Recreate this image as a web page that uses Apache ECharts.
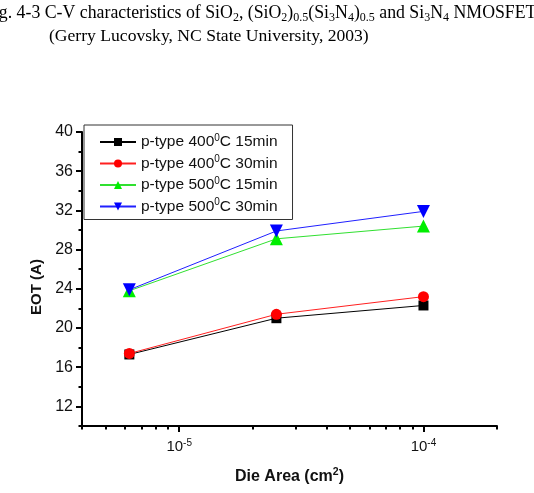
<!DOCTYPE html>
<html>
<head>
<meta charset="utf-8">
<script src="https://cdn.jsdelivr.net/npm/echarts@6/dist/echarts.min.js"></script>
<style>
  html, body { margin: 0; padding: 0; background: #fff; }
  #chart { width: 534px; height: 493px; }
</style>
</head>
<body>
<div id="chart"></div>
<script>
// die areas (cm^2) and EOT (A)
const dieArea = [6.25e-6, 2.5e-5, 1e-4]
const eot400_15 = [17.3, 21.0, 22.3]
const eot400_30 = [17.4, 21.4, 23.2]
const eot500_15 = [23.8, 29.1, 30.4]
const eot500_30 = [23.9, 29.9, 31.9]

const seriesNames = ['p-type 400°C 15min', 'p-type 400°C 30min', 'p-type 500°C 15min', 'p-type 500°C 30min']

const yLabels = [12, 16, 20, 24, 28, 32, 36, 40]
const yMinor = [10, 14, 18, 22, 26, 30, 34, 38]
const xMajor = [1e-5, 1e-4]
const xMinor = [4e-6, 5e-6, 6e-6, 7e-6, 8e-6, 9e-6, 2e-5, 3e-5, 4e-5, 5e-5, 6e-5, 7e-5, 8e-5, 9e-5, 2e-4]
const xMin = 4e-6
const xMax = 2e-4
const yMin = 10
const yMax = 40

const lg = v => Math.log10(v)
const pts = arr => arr.map((y, i) => [lg(dieArea[i]), y])

const sans = 'Liberation Sans, Arial, sans-serif'
const serif = 'Liberation Serif, Times New Roman, serif'

const chart = echarts.init(document.getElementById('chart'), null, { renderer: 'canvas' })

function mkSeries(name, data, color, lineColor, symbol, size, rotate) {
  return {
    name, type: 'line', data: pts(data),
    symbol, symbolSize: size, symbolRotate: rotate || 0,
    lineStyle: { color: lineColor, width: 1 },
    itemStyle: { color },
    emphasis: { disabled: true },
    z: 3,
  }
}

const axisLine = { show: true, lineStyle: { color: '#000', width: 2 } }

chart.setOption({
  backgroundColor: '#fff',
  animation: false,
  textStyle: { fontFamily: sans },
  grid: { left: 82, right: 37, top: 132, bottom: 67 },
  graphic: [
    {
      type: 'text', left: -16, top: 3,
      style: {
        text: 'Fig. 4-3 C-V characteristics of SiO{sub|2}, (SiO{sub|2}){sub|0.5}(Si{sub|3}N{sub|4}){sub|0.5} and Si{sub|3}N{sub|4} NMOSFETs',
        font: '17.8px ' + serif, fill: '#000', lineHeight: 21,
        rich: { sub: { fontSize: 12, fontFamily: serif, verticalAlign: 'bottom', lineHeight: 12 } },
      },
    },
    {
      type: 'text', left: 49, top: 27,
      style: { text: '(Gerry Lucovsky, NC State University, 2003)', font: '17.6px ' + serif, fill: '#000' },
    },
  ],
  legend: {
    orient: 'vertical', left: 84, top: 125,
    data: seriesNames,
    borderColor: '#333', borderWidth: 1, borderRadius: 0,
    padding: [8, 15, 4, 15],
    itemWidth: 36, itemHeight: 10, itemGap: 3.5,
    formatter: n => n.replace('°', '{s|0}'),
    textStyle: {
      fontSize: 15.5, color: '#111', fontFamily: sans, lineHeight: 18,
      rich: { s: { fontSize: 10, fontFamily: sans, verticalAlign: 'top', lineHeight: 8 } },
    },
  },
  xAxis: [
    {
      type: 'value', min: lg(xMin), max: lg(xMax), position: 'bottom',
      axisLine,
      axisTick: { customValues: xMajor.map(lg), length: 6, lineStyle: { color: '#000', width: 2 } },
      axisLabel: {
        customValues: xMajor.map(lg), margin: 12, color: '#111',
        formatter: v => '{b|10}{s|' + Math.round(v) + '}',
        rich: {
          b: { fontSize: 15, fontFamily: sans, lineHeight: 18 },
          s: { fontSize: 10, fontFamily: sans, verticalAlign: 'top', lineHeight: 9 },
        },
      },
      splitLine: { show: false },
      name: 'Die Area (cm{s|2})', nameLocation: 'middle', nameGap: 41,
      nameTextStyle: {
        fontSize: 16, fontWeight: 'bold', color: '#111', fontFamily: sans, lineHeight: 19,
        rich: { s: { fontSize: 10.5, fontWeight: 'bold', fontFamily: sans, verticalAlign: 'top', lineHeight: 9 } },
      },
    },
    {
      type: 'value', min: lg(xMin), max: lg(xMax), position: 'bottom',
      axisLine: { show: false },
      axisTick: { customValues: xMinor.map(lg), length: 3.5, lineStyle: { color: '#000', width: 2 } },
      axisLabel: { show: false },
      splitLine: { show: false },
    },
  ],
  yAxis: [
    {
      type: 'value', min: yMin, max: yMax, position: 'left',
      axisLine,
      axisTick: { customValues: yLabels, length: 6, lineStyle: { color: '#000', width: 2 } },
      axisLabel: { customValues: yLabels, fontSize: 16, color: '#111', margin: 9, fontFamily: sans },
      splitLine: { show: false },
      name: 'EOT (A)', nameLocation: 'middle', nameGap: 38,
      nameTextStyle: { fontSize: 15, fontWeight: 'bold', color: '#111', fontFamily: sans, padding: [0, 16, 0, 0] },
    },
    {
      type: 'value', min: yMin, max: yMax, position: 'left',
      axisLine: { show: false },
      axisTick: { customValues: yMinor, length: 3.5, lineStyle: { color: '#000', width: 2 } },
      axisLabel: { show: false },
      splitLine: { show: false },
    },
  ],
  series: [
    mkSeries(seriesNames[0], eot400_15, '#000000', '#000000', 'rect', 10),
    mkSeries(seriesNames[1], eot400_30, '#ff0000', '#ff2020', 'circle', 11),
    mkSeries(seriesNames[2], eot500_15, '#00ee00', '#30e030', 'triangle', 13),
    mkSeries(seriesNames[3], eot500_30, '#0000ff', '#2020ff', 'triangle', 13, 180),
  ],
})
</script>
</body>
</html>
